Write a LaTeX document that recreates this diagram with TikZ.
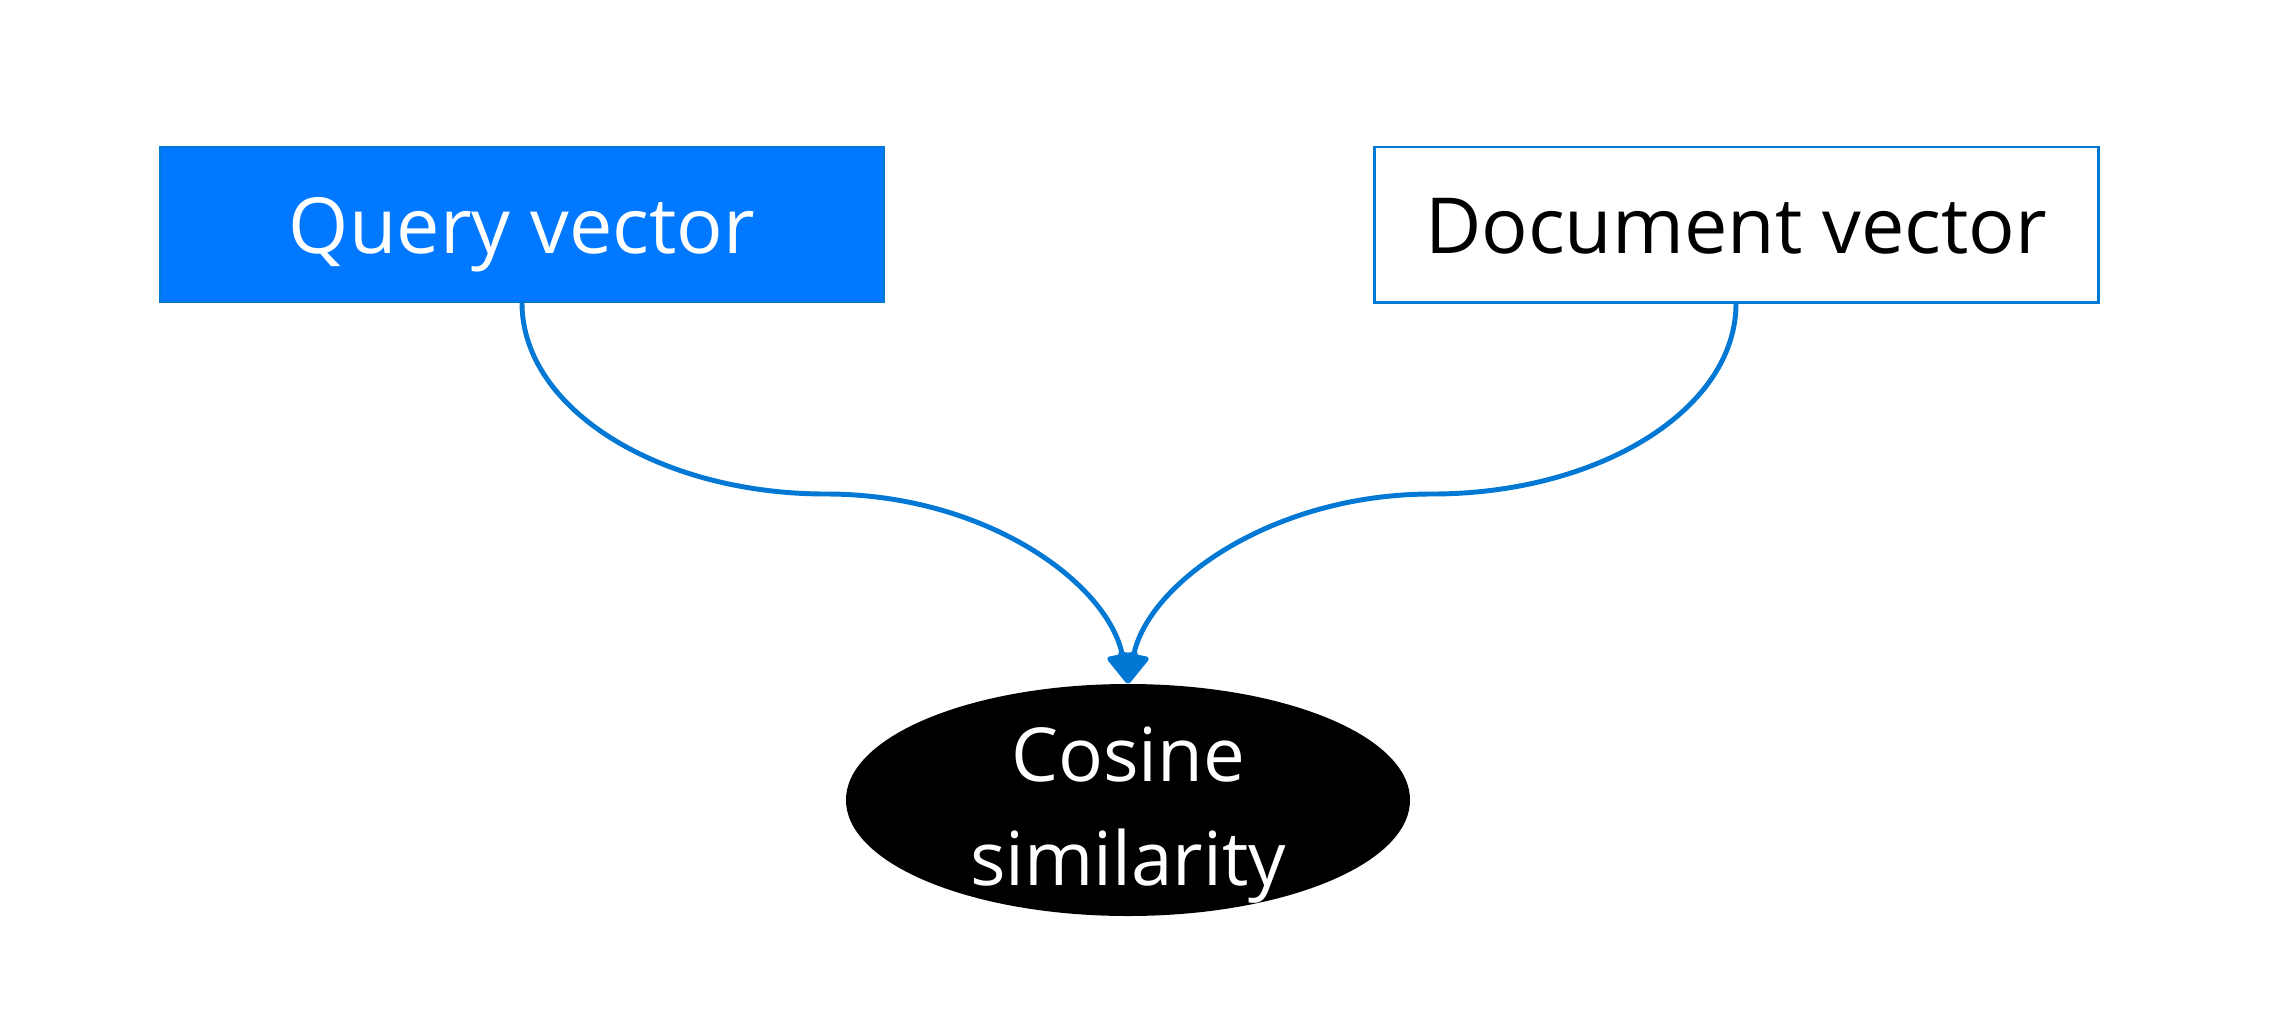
\documentclass[tikz,border=0pt]{standalone}
\usepackage{fontspec}
\setmainfont{Open Sans}
\usepackage{xcolor}
\usetikzlibrary{arrows.meta}
\usetikzlibrary{shapes.geometric}
\definecolor{queryblue}{HTML}{0078FF}
\definecolor{lineblue}{HTML}{0078D4}

\begin{document}
\begin{tikzpicture}[
    vecbox/.style={rectangle,minimum width=7.24cm,minimum height=1.55cm,inner sep=0pt,text height=0.58cm,text depth=0pt},
    bigtext/.style={font=\fontsize{22}{29.6}\selectfont},
    ovaltext/.style={font=\fontsize{21.2}{29.6}\selectfont},
    link/.style={draw=lineblue,line width=1.4pt,-{Triangle[length=3.3mm,width=3.3mm,round]}}
  ]
      \useasboundingbox (0,0) rectangle (22.77,-10.33);

      \node (query) at (5.22,-2.245) [vecbox,bigtext,fill=queryblue,draw=lineblue,line width=0.5pt,text=white]{Query vector};
      \node (doc) at (17.36,-2.245) [vecbox,bigtext,fill=white,draw=lineblue,line width=0.85pt]{Document vector};

      \node (cosine) at (11.28,-8.00) [ellipse,fill=black,text=white,minimum width=5.64cm,minimum height=2.32cm,inner xsep=0pt,inner ysep=-0.3cm,text height=48.9pt,text depth=0pt,ovaltext]{\begin{tabular}[b]{@{}c@{}}Cosine\\similarity\end{tabular}};

      \coordinate (qbend) at (8.26,-4.94);
      \coordinate (dbend) at (14.32,-4.94);

      \draw[link] (query.south) .. controls +(0,-1.06) and +(-1.67,0) .. (qbend)
                  .. controls +(1.6,0) and +(-0.2,1.0) .. (cosine.north);
      \draw[link] (doc.south) .. controls +(0,-1.06) and +(1.67,0) .. (dbend)
                  .. controls +(-1.6,0) and +(0.2,1.0) .. (cosine.north);
    \end{tikzpicture}
\end{document}
